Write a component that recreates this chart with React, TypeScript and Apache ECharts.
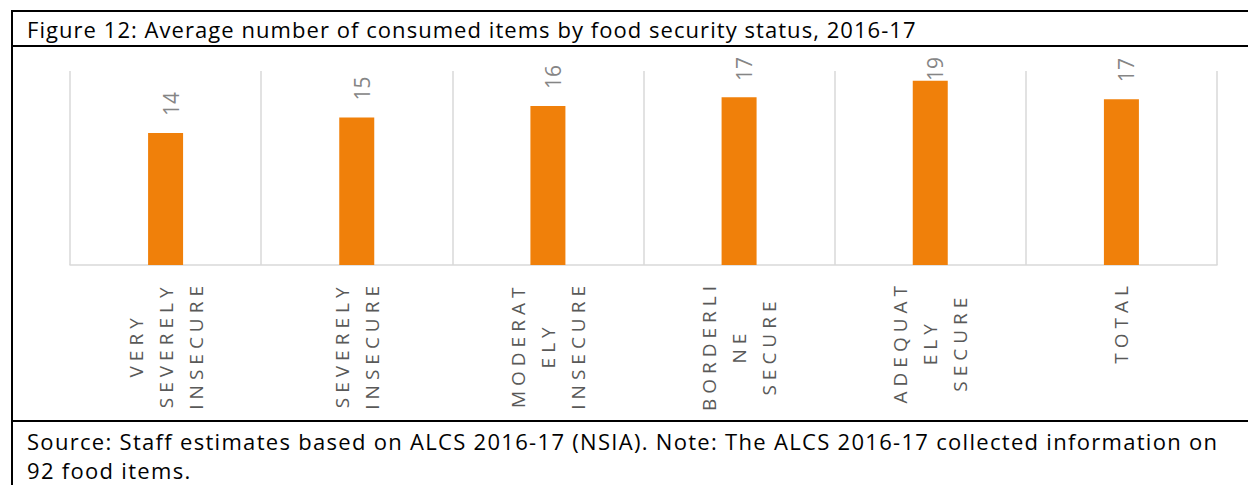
import React, { useEffect, useRef } from 'react';
import * as echarts from 'echarts';

// Food security groups, with the wrapped form used on the axis
const categories = [
  'VERY SEVERELY INSECURE',
  'SEVERELY INSECURE',
  'MODERATELY INSECURE',
  'BORDERLINE SECURE',
  'ADEQUATELY SECURE',
  'TOTAL',
];
const tickLabels = [
  ['VERY', 'SEVERELY', 'INSECURE'],
  ['SEVERELY', 'INSECURE'],
  ['MODERAT', 'ELY', 'INSECURE'],
  ['BORDERLI', 'NE', 'SECURE'],
  ['ADEQUAT', 'ELY', 'SECURE'],
  ['TOTAL'],
];
// Average number of consumed food items per household
const avgItems = [13.6, 15.2, 16.4, 17.3, 19.0, 17.1];

const titleText = 'Figure 12: Average number of consumed items by food security status, 2016-17';
const sourceLines = [
  'Source: Staff estimates based on ALCS 2016-17 (NSIA). Note: The ALCS 2016-17 collected information on',
  '92 food items.',
];

const W = 1248;
const H = 485;
const FONT = "'Open Sans', 'Noto Sans', sans-serif";
// near-identical fills give the CSS below a handle on each group of texts
const AXIS_LABEL_COLOR = '#595958';
const TITLE_COLOR = '#010101';
const NOTE_COLOR = '#020202';
const LETTER_SPACING = 5;
const CHART_AREA_TOP = 57;

// One rich style per line length: the padding reserves room for the CSS letter spacing,
// so that the centred lines and the label's end stay where they should.
const axisRich: Record<string, any> = {};
for (let n = 1; n <= 12; n++) {
  const pad = (n * LETTER_SPACING) / 2;
  axisRich['c' + n] = {
    align: 'center',
    fontFamily: FONT,
    fontSize: 19,
    lineHeight: 30,
    color: AXIS_LABEL_COLOR,
    padding: [0, pad, 0, pad],
  };
}

const css = `
.food-chart text[fill="${AXIS_LABEL_COLOR}"] { letter-spacing: ${LETTER_SPACING}px; }
.food-chart text[fill="${TITLE_COLOR}"] { letter-spacing: 1.05px; }
.food-chart text[fill="${NOTE_COLOR}"] { letter-spacing: 1.3px; }
`;

export default function App() {
  const ref = useRef<HTMLDivElement>(null);

  useEffect(() => {
    if (!ref.current) return;
    const chart = echarts.init(ref.current, undefined, { renderer: 'svg', width: W, height: H });

    const frame = '#000000';
    const option: echarts.EChartsOption = {
      animation: false,
      backgroundColor: '#ffffff',
      grid: { left: 70, right: 31, top: 71, bottom: 220, containLabel: false },
      xAxis: {
        type: 'category',
        data: categories,
        boundaryGap: true,
        axisTick: { show: false },
        axisLine: { show: true, lineStyle: { color: '#d9d9d9', width: 1.5 } },
        splitLine: { show: true, interval: 0, lineStyle: { color: '#d9d9d9', width: 1.5 } },
        axisLabel: {
          interval: 0,
          rotate: 90,
          margin: 16,
          formatter: (_v: string, i: number) =>
            tickLabels[i].map((l) => `{c${l.length}|${l}}`).join('\n'),
          rich: axisRich,
        },
      },
      yAxis: {
        type: 'value',
        min: 0,
        max: 20,
        show: false,
        splitLine: { show: false },
      },
      series: [
        {
          type: 'bar',
          data: avgItems,
          barWidth: 35,
          silent: true,
          itemStyle: { color: '#F0800A' },
          label: {
            show: true,
            position: 'top',
            distance: 17,
            rotate: 90,
            align: 'left',
            verticalAlign: 'middle',
            fontFamily: FONT,
            fontSize: 21,
            color: '#858585',
            formatter: (p: any) => String(Math.round(p.value)),
          },
          // labels are rotated, so dx runs along the text (upwards) and dy across it;
          // a label that would rise past the chart area is pulled back down
          labelLayout: (params: any) => {
            const r = params.labelRect;
            const over = r && r.y < CHART_AREA_TOP ? CHART_AREA_TOP - r.y : 0;
            return { dx: -over, dy: 5 };
          },
        },
      ],
      graphic: [
        { type: 'line', shape: { x1: 11, y1: 11, x2: W + 10, y2: 11 }, style: { stroke: frame, lineWidth: 2 } },
        { type: 'line', shape: { x1: 12, y1: 10, x2: 12, y2: H + 10 }, style: { stroke: frame, lineWidth: 2 } },
        { type: 'line', shape: { x1: 11, y1: 46, x2: W + 10, y2: 46 }, style: { stroke: frame, lineWidth: 2 } },
        { type: 'line', shape: { x1: 11, y1: 421, x2: W + 10, y2: 421 }, style: { stroke: frame, lineWidth: 2 } },
        {
          type: 'text',
          x: 27,
          y: 29,
          style: { text: titleText, fontFamily: FONT, fontSize: 22, fill: TITLE_COLOR, verticalAlign: 'middle' },
        },
        {
          type: 'text',
          x: 27,
          y: 426.5,
          style: {
            text: sourceLines.join('\n'),
            fontFamily: FONT,
            fontSize: 22,
            lineHeight: 29,
            fill: NOTE_COLOR,
            verticalAlign: 'top',
          },
        },
      ],
    };

    chart.setOption(option);
    return () => chart.dispose();
  }, []);

  return (
    <div style={{ position: 'fixed', left: 0, top: 0, width: W, height: H, background: '#fff', overflow: 'hidden' }}>
      <style>{css}</style>
      <div className="food-chart" ref={ref} style={{ width: W, height: H }} />
    </div>
  );
}
